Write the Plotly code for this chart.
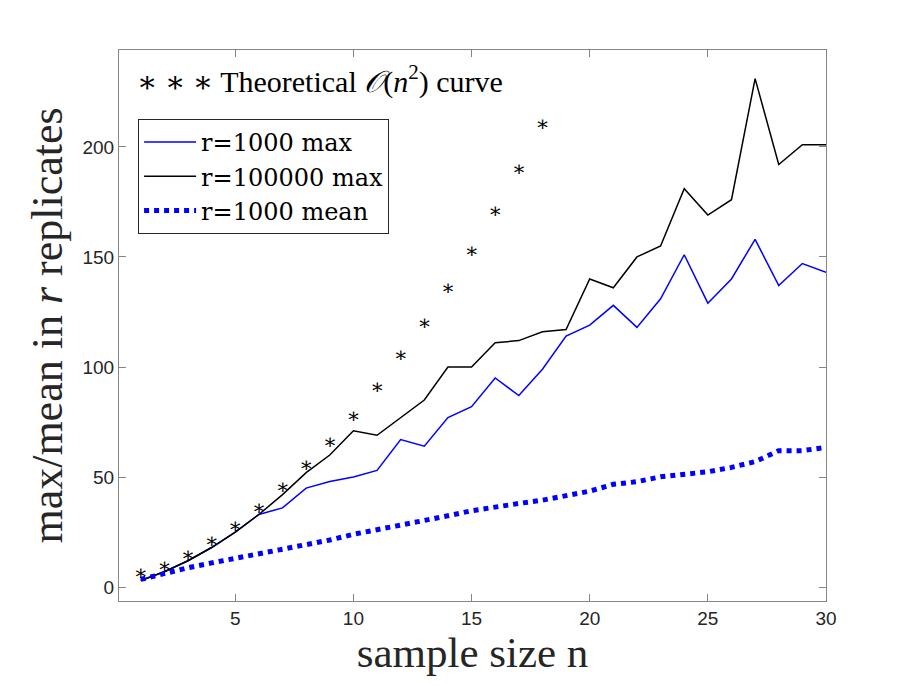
import plotly.graph_objects as go

# sample sizes
n = list(range(1, 31))

# r=1000 max (blue)
max_r1000 = [3, 7, 12, 18, 25, 33, 36, 45, 48, 50, 53, 67, 64, 77, 82, 95, 87, 99, 114, 119,
             128, 118, 131, 151, 129, 140, 158, 137, 147, 143]
# r=100000 max (black)
max_r100000 = [3, 7, 12, 18, 25, 33, 42, 52, 60, 71, 69, 77, 85, 100, 100, 111, 112, 116, 117, 140,
               136, 150, 155, 181, 169, 176, 231, 192, 201, 201]
# r=1000 mean (dotted)
mean_r1000 = [3.5, 6.2, 8.8, 11, 13, 15, 17, 19, 21.4, 24, 26, 28, 30.5, 32.4, 34.7, 36.5, 38, 39.5,
              41.5, 43.6, 46.7, 47.9, 50.1, 51.4, 52.4, 54.4, 57, 62, 62, 63.5]
# theoretical O(n^2) stars, n = 1..18
n_theory = list(range(1, 19))
theory = [5.5, 9, 14, 20, 27, 35, 44.5, 54.5, 65, 77, 90, 104.5, 119, 135, 152, 170, 189, 209.5]

x_ticks = [5, 10, 15, 20, 25, 30]
y_ticks = [0, 50, 100, 150, 200]

SERIF = "Liberation Serif, DejaVu Serif, serif"
AXIS_GRAY = "#858585"

fig = go.Figure()

fig.add_trace(go.Scatter(x=n, y=max_r1000, mode="lines", name="r=1000 max",
                         line=dict(color="#0000ff", width=1.5)))
fig.add_trace(go.Scatter(x=n, y=max_r100000, mode="lines", name="r=100000 max",
                         line=dict(color="#000000", width=1.5)))
fig.add_trace(go.Scatter(x=n, y=mean_r1000, mode="lines", name="r=1000 mean",
                         line=dict(color="#0000ff", width=5, dash="5px,5px")))
fig.add_trace(go.Scatter(x=n_theory, y=theory, mode="text", text=["∗"] * len(theory),
                         textposition="middle center", showlegend=False,
                         textfont=dict(family="DejaVu Serif", size=21, color="#000000")))

fig.add_annotation(
    xref="paper", yref="paper", x=0.022, y=0.947, xanchor="left", yanchor="middle",
    text="∗ ∗ ∗ Theoretical <i>𝒪</i>(<i>n</i><sup>2</sup>) curve", showarrow=False,
    font=dict(family=SERIF, size=30, color="#000000"),
)

axis_common = dict(
    showline=True, linecolor=AXIS_GRAY, linewidth=1, mirror="ticks",
    ticks="inside", ticklen=7, tickcolor=AXIS_GRAY, tickwidth=1,
    showgrid=False, zeroline=False,
    tickfont=dict(family="Liberation Sans, Arial, sans-serif", size=19, color="#262626"),
)

# page body adds an 8px offset, margins compensate for it
fig.update_layout(
    width=913, height=685,
    paper_bgcolor="white", plot_bgcolor="white",
    margin=dict(l=111, r=95, t=42, b=92),
    xaxis=dict(range=[0.08, 30], tickvals=x_ticks,
               title=dict(text="sample size n", font=dict(family=SERIF, size=43, color="#262626"),
                          standoff=6),
               **axis_common),
    yaxis=dict(range=[-6.3, 244], tickvals=y_ticks,
               title=dict(text="max/mean in <i>r</i> replicates",
                          font=dict(family=SERIF, size=44, color="#262626"), standoff=6),
               **axis_common),
    legend=dict(x=0.027, y=0.875, xanchor="left", yanchor="top",
                bordercolor="#262626", borderwidth=1, bgcolor="white",
                font=dict(family="DejaVu Serif", size=24, color="#000000"),
                itemwidth=52, tracegroupgap=0),
    showlegend=True,
)

fig.write_html("out.html")
